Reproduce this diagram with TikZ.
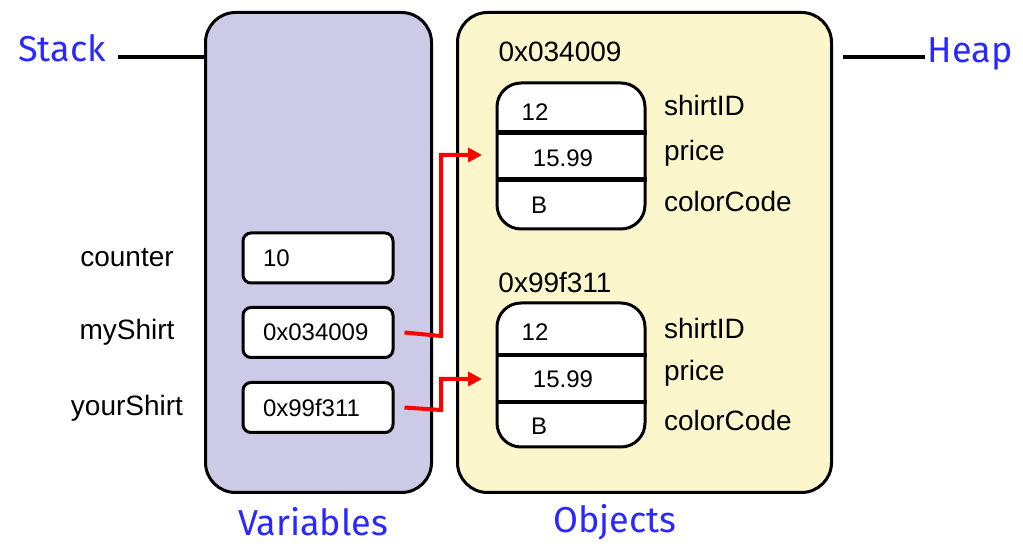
\documentclass[tikz,border=0pt]{standalone}
\usepackage{fontspec}
\setmainfont{Liberation Sans}
\newfontfamily\handfont{Fira Sans}
\usetikzlibrary{arrows.meta}

\definecolor{stackfill}{RGB}{204,202,230}
\definecolor{heapfill}{RGB}{251,246,204}
\definecolor{handblue}{RGB}{40,40,255}

\tikzset{
  area/.style={draw, line width=1.5pt, rounded corners=15pt, minimum width=113pt, minimum height=240pt},
  varbox/.style={draw, fill=white, line width=1.5pt, rounded corners=4pt, minimum width=75pt, minimum height=25pt, text width=55pt, font=\fontsize{12}{14}\selectfont},
  objbox/.style={draw, fill=white, line width=1.5pt, rounded corners=12pt, minimum width=74pt, minimum height=73pt},
  lbl/.style={font=\fontsize{14}{16}\selectfont},
  val/.style={font=\fontsize{12}{14}\selectfont},
  hand/.style={text=handblue, font=\handfont\fontsize{18}{20}\selectfont},
  ref/.style={draw=red, line width=2pt, -{Triangle[length=7pt,width=7pt]}}
}

\begin{document}
\begin{tikzpicture}[x=0.5pt,y=-0.5pt]
	\useasboundingbox (0,0) rectangle (1023,550);

	% the two memory areas
	\node[area, fill=stackfill] (stack) at (318.5,252.5) {};
	\node[area, fill=heapfill, minimum width=187pt] (heap) at (644.5,252.5) {};

	\node[hand] (stackname) at (62,48) {Stack};
	\node[hand] (heapname) at (970,54) {Heap};
	\draw[line width=2.2pt] (118,57) -- (stack.west |- 0,57);
	\draw[line width=2pt] (heap.east |- 0,57) ++(10,0) -- (925,57);
	\node[hand] (varname) at (313,522) {Variables};
	\node[hand] (objname) at (615,522) {Objects};

	% variables
	\node[varbox] (cnt) at (318,258) {10};
	\node[varbox] (mys) at (318,332.5) {0x034009};
	\node[varbox] (yours) at (318,407.5) {0x99f311};
	\node[lbl] at (127,258) {counter};
	\node[lbl] at (127,332) {myShirt};
	\node[lbl] at (127,408) {yourShirt};

	% objects
	\node[lbl] (addr1) at (560,52) {0x034009};
	\node[objbox] (obj1) at (571,156) {};
	\draw[line width=2.5pt] (obj1.west |- 0,133) -- (obj1.east |- 0,133);
	\draw[line width=2.5pt] (obj1.west |- 0,180) -- (obj1.east |- 0,180);
	\node[val] at (535,112) {12};
	\node[val] at (563,158) {15.99};
	\node[val] at (539,205) {B};
	\node[lbl, anchor=west] at (657,105) {shirtID};
	\node[lbl, anchor=west] at (657,153) {price};
	\node[lbl, anchor=west] at (657,201) {colorCode};

	\node[lbl] (addr2) at (555,283) {0x99f311};
	\node[objbox, minimum height=72pt] (obj2) at (571,375) {};
	\draw[line width=1.8pt] (obj2.west |- 0,355) -- (obj2.east |- 0,355);
	\draw[line width=1.8pt] (obj2.west |- 0,402) -- (obj2.east |- 0,402);
	\node[val] at (535,332) {12};
	\node[val] at (563,379) {15.99};
	\node[val] at (539,426) {B};
	\node[lbl, anchor=west] at (657,328) {shirtID};
	\node[lbl, anchor=west] at (657,373) {price};
	\node[lbl, anchor=west] at (657,420) {colorCode};

	% references
	\coordinate (in1) at (482,155);
	\coordinate (in2) at (482,379);
	\draw[ref] ([xshift=5pt]mys.east) -- (441,336) |- (in1);
	\draw[ref] ([xshift=5pt]yours.east) -- (441,410) |- (in2);

\end{tikzpicture}
\end{document}
